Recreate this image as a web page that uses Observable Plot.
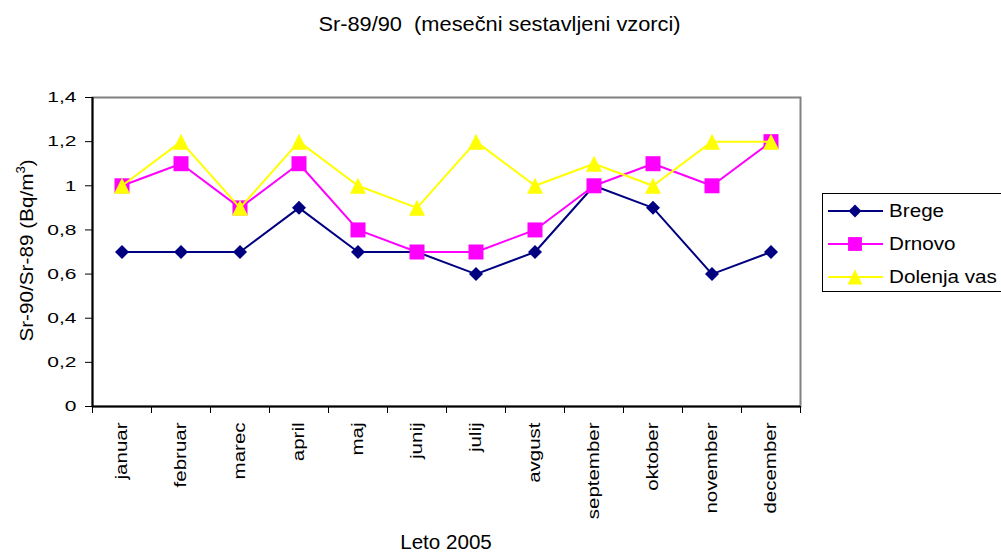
<!DOCTYPE html>
<html><head><meta charset="utf-8">
<script src="https://cdn.jsdelivr.net/npm/d3@7"></script>
<script src="https://cdn.jsdelivr.net/npm/@observablehq/plot@0.6"></script>
<style>
html,body{margin:0;padding:0;background:#fff;}
#wrap{position:relative;width:1001px;height:553px;overflow:hidden;font-family:"Liberation Sans",Arial,sans-serif;}
#wrap svg{position:absolute;left:0;top:0;}
.t-title{white-space:pre;}
</style></head>
<body><div id="wrap"></div>
<script>
// ---- data ----
const months = ["januar","februar","marec","april","maj","junij","julij","avgust","september","oktober","november","december"];
const brege   = [0.7,0.7,0.7,0.9,0.7,0.7,0.6,0.7,1.0,0.9,0.6,0.7];
const drnovo  = [1.0,1.1,0.9,1.1,0.8,0.7,0.7,0.8,1.0,1.1,1.0,1.2];
const dolenja = [1.0,1.2,0.9,1.2,1.0,0.9,1.2,1.0,1.1,1.0,1.2,1.2];
const seriesNames  = ["Brege","Drnovo","Dolenja vas"];
const seriesColors = ["#000080","#FF00FF","#FFFF00"];
const yTicks = [0,0.2,0.4,0.6,0.8,1.0,1.2,1.4];
const titleText = "Sr-89/90  (mesečni sestavljeni vzorci)";
const xTitleText = "Leto 2005";
const yTitleParts = ["Sr-90/Sr-89 (Bq/m","3",")"];

// ---- symbols ----
const symDiamond = {draw(c,size){const r=Math.sqrt(size/Math.PI);c.moveTo(0,-r);c.lineTo(r,0);c.lineTo(0,r);c.lineTo(-r,0);c.closePath();}};
const symSquare  = {draw(c,size){const r=Math.sqrt(size/Math.PI);c.moveTo(-r,-r);c.lineTo(r,-r);c.lineTo(r,r);c.lineTo(-r,r);c.closePath();}};
const symTri     = {draw(c,size){const r=Math.sqrt(size/Math.PI);c.moveTo(0,-r);c.lineTo(r,r);c.lineTo(-r,r);c.closePath();}};
const symbols = [symDiamond, symSquare, symTri];
const symR = [7, 7.5, 8];

const seriesValues = [brege, drnovo, dolenja];
const rows = [];
seriesValues.forEach((vals, s) => vals.forEach((v, i) => rows.push({s, i, x: i + 0.5, y: v})));

const fmt = d => String(d).replace(".", ",");

const marks = [
  Plot.frame({stroke:"#808080", strokeWidth:2}),
  Plot.ruleX([0], {stroke:"#000", strokeWidth:2}),
  Plot.ruleY([0], {stroke:"#000", strokeWidth:2}),
  Plot.axisY(yTicks, {tickSize:7, tickPadding:9, tickFormat: fmt, fontSize:15, label:null, stroke:"#000", ariaLabel:"yax"}),
  Plot.axisX(d3.range(13), {tickSize:7, tickFormat: () => "", label:null, stroke:"#000"}),
  Plot.axisX(months.map((m,i)=>i+0.5), {tickSize:0, tickPadding:16, tickRotate:-90, tickFormat: d => months[Math.round(d-0.5)], fontSize:16, label:null})
];
seriesValues.forEach((vals, s) => {
  const data = rows.filter(r => r.s === s);
  marks.push(Plot.line(data, {x:"x", y:"y", stroke: seriesColors[s], strokeWidth:2}));
  marks.push(Plot.dot(data, {x:"x", y:"y", symbol: symbols[s], r: symR[s], fill: seriesColors[s], stroke:"none"}));
});

const chart = Plot.plot({
  width:1001, height:553,
  marginLeft:92, marginRight:201, marginTop:97, marginBottom:147,
  x:{type:"linear", domain:[0,12], axis:null},
  y:{domain:[0,1.4], axis:null},
  style:{fontFamily:'"Liberation Sans", Arial, sans-serif', color:"#000", background:"transparent", overflow:"visible"},
  marks
});
const wrap = document.getElementById("wrap");
wrap.appendChild(chart);

// tag tick labels
const yLabelTexts = [], mLabelTexts = [];
chart.querySelectorAll("text").forEach(t => {
  const s = t.textContent;
  if (months.includes(s)) { t.setAttribute("font-size", 16); t.style.fontSize = "16px"; mLabelTexts.push(t); }
  else if (yTicks.map(fmt).includes(s)) { t.setAttribute("font-size", 15); t.style.fontSize = "15px"; yLabelTexts.push(t); }
});

// ---- overlay: titles + legend ----
const ov = d3.select(wrap).append("svg").attr("width",1001).attr("height",553)
  .style("font-family",'"Liberation Sans", Arial, sans-serif');
ov.append("text").attr("class","t-title").attr("x",499.5).attr("y",31).attr("text-anchor","middle")
  .attr("font-size",20).attr("xml:space","preserve").text(titleText);
ov.append("text").attr("class","t-x").attr("x",446).attr("y",549).attr("text-anchor","middle")
  .attr("font-size",20).text(xTitleText);
const yl = ov.append("text").attr("class","t-y").attr("transform","translate(33,250.5) rotate(-90)")
  .attr("text-anchor","middle").attr("font-size",19);
yl.append("tspan").text(yTitleParts[0]);
yl.append("tspan").attr("font-size",12).attr("dy",-8).text(yTitleParts[1]);
yl.append("tspan").attr("dy",8).text(yTitleParts[2]);

const lg = ov.append("g");
lg.append("rect").attr("x",822.5).attr("y",193.5).attr("width",200).attr("height",98)
  .attr("fill","#fff").attr("stroke","#000").attr("stroke-width",1);
seriesNames.forEach((name, s) => {
  const cy = 211 + s*33;
  lg.append("line").attr("x1",828).attr("x2",883).attr("y1",cy).attr("y2",cy)
    .attr("stroke",seriesColors[s]).attr("stroke-width",2);
  const p = d3.path(); symbols[s].draw(p, Math.PI*symR[s]*symR[s]*0.85);
  lg.append("path").attr("d",p.toString()).attr("transform",`translate(855,${cy})`).attr("fill",seriesColors[s]);
  lg.append("text").attr("class","t-leg").attr("x",889).attr("y",cy+6.3).attr("font-size",17.5).text(name);
});

// ---- widen glyphs like the reference ----
function widenEls(els, f){
  els.forEach(el => {
    const len = el.getComputedTextLength();
    if (len > 0) { el.setAttribute("textLength", (len*f).toFixed(2)); el.setAttribute("lengthAdjust","spacingAndGlyphs"); }
  });
}
const q = s => Array.from(document.querySelectorAll(s));
widenEls(yLabelTexts, 1.4);
widenEls(mLabelTexts, 1.28);
widenEls(q(".t-title"), 1.09);
widenEls(q(".t-x"), 1.03);
widenEls(q(".t-y"), 1.09);
widenEls(q(".t-leg"), 1.18);
</script>
</body></html>
